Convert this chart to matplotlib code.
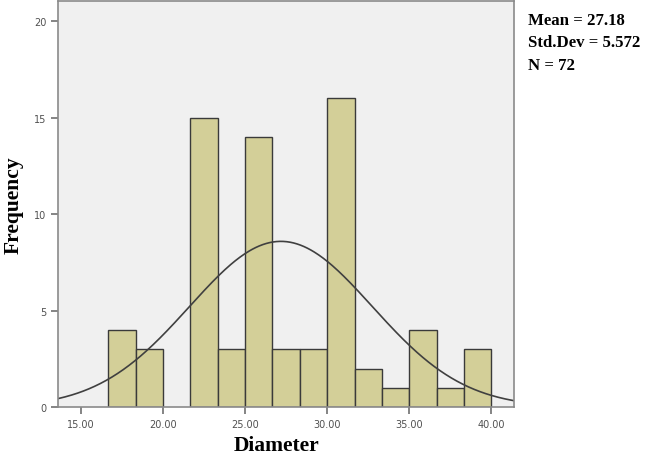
import numpy as np
import matplotlib
matplotlib.use("Agg")
import matplotlib.pyplot as plt

# histogram bins (width 5/3) and counts
bin_edges = [16.6667, 18.3333, 20.0, 21.6667, 23.3333, 25.0, 26.6667, 28.3333,
             30.0, 31.6667, 33.3333, 35.0, 36.6667, 38.3333, 40.0]
counts = [4, 3, 0, 15, 3, 14, 3, 3, 16, 2, 1, 4, 1, 3]
mean_val = 27.18
std_val = 5.572
n_val = 72
x_ticks = [15, 20, 25, 30, 35, 40]
x_ticklabels = ["15.00", "20.00", "25.00", "30.00", "35.00", "40.00"]
y_ticks = [0, 5, 10, 15, 20]

fig = plt.figure(figsize=(6.49, 4.56), dpi=100)
ax = fig.add_axes([0.0894, 0.105, 0.703, 0.8906])
ax.set_facecolor("#f0f0f0")

edges = np.array(bin_edges)
widths = np.diff(edges)
for left, w, c in zip(edges[:-1], widths, counts):
    if c > 0:
        ax.bar(left, c, width=w, align="edge", color="#d3cf98",
               edgecolor="#3a3a3a", linewidth=1.0)

# normal curve scaled to counts
xs = np.linspace(13.6, 41.4, 400)
scale = n_val * widths[0]
ys = scale / (std_val * np.sqrt(2 * np.pi)) * np.exp(-0.5 * ((xs - mean_val) / std_val) ** 2)
ax.plot(xs, ys, color="#404040", linewidth=1.2)

ax.set_xlim(13.6, 41.4)
ax.set_ylim(0, 21.05)
ax.set_xticks(x_ticks)
ax.set_xticklabels(x_ticklabels)
ax.set_yticks(y_ticks)
ax.tick_params(axis="both", direction="out", length=5, width=1.2,
               color="#707070", labelcolor="#505050", labelsize=7)
for s in ax.spines.values():
    s.set_color("#8a8a8a")
    s.set_linewidth(1.2)

ax.set_xlabel("Diameter", fontfamily="Liberation Serif", fontweight="bold",
              fontsize=15.5, va="top")
ax.xaxis.set_label_coords(0.478, -0.068)
ax.set_ylabel("Frequency", fontfamily="Liberation Serif", fontweight="bold",
              fontsize=15.5, labelpad=7)

fig.text(0.814, 0.972, "Mean = %.2f\nStd.Dev = %.3f\nN = %d" % (mean_val, std_val, n_val),
         fontfamily="Liberation Serif", fontweight="bold", fontsize=12.1,
         va="top", ha="left", linespacing=1.55)

fig.savefig("out.png", dpi=100)
